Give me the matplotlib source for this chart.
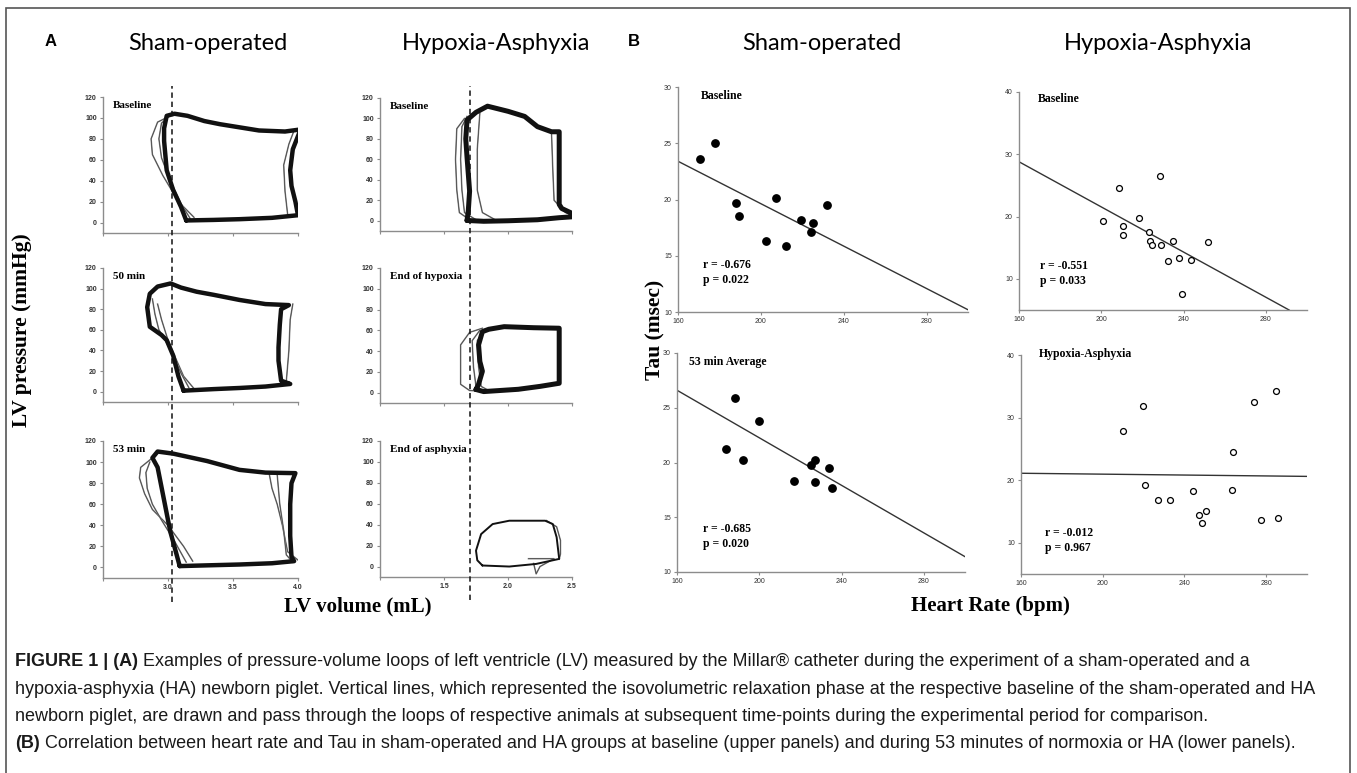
import numpy as np
import matplotlib.pyplot as plt
from matplotlib.patches import Rectangle

W, H = 1357, 773
SERIF = 'Liberation Serif'
SANS = 'Liberation Sans'
CAPFONT = 'Liberation Sans'
TITLEFONT = 'Lato'
AXGRAY = '#8c8c8c'

# ---------------- panel A: pressure-volume loops (volume mL, pressure mmHg) ----------------
sham_iso_vol = 3.03
ha_iso_vol = 1.70

sham_base_vol = [3.14, 3.35, 3.55, 3.80, 4.00, 3.98, 3.95, 3.94, 3.96, 4.02, 3.90, 3.70, 3.55,
                 3.40, 3.28, 3.15, 3.05, 2.99, 2.97, 2.97, 2.99, 3.04, 3.10, 3.14]
sham_base_p = [2, 2.5, 3.2, 4.5, 7, 20, 35, 50, 70, 89, 87, 88, 91, 94, 97, 102, 104, 102, 90,
               78, 50, 31, 15, 2]
sham_base_ghost = [([3.05, 2.92, 2.87, 2.88, 2.96, 3.08, 3.20], [104, 96, 80, 65, 45, 20, 5]),
                   ([3.02, 2.95, 2.93, 2.95, 3.01, 3.10, 3.17], [103, 95, 80, 62, 42, 18, 4]),
                   ([3.92, 3.90, 3.89, 3.93, 3.97], [8, 30, 55, 75, 88])]

sham_50_vol = [3.12, 3.35, 3.55, 3.75, 3.94, 3.87, 3.85, 3.85, 3.86, 3.87, 3.93, 3.75, 3.55,
               3.35, 3.22, 3.10, 3.02, 2.92, 2.86, 2.84, 2.86, 2.95, 2.99, 3.04, 3.08, 3.12]
sham_50_p = [1, 2.5, 3.6, 5, 7.5, 10.7, 30, 43, 65, 80, 84, 85, 89, 94, 97, 101, 105, 102, 95,
             82, 63, 55, 50, 35, 15, 1]
sham_50_ghost = [([2.92, 2.95, 2.98, 3.00, 3.05, 3.12, 3.20], [85, 70, 58, 50, 35, 15, 3]),
                 ([2.88, 2.90, 2.93, 2.97, 3.03, 3.10, 3.16], [90, 75, 60, 52, 38, 18, 4]),
                 ([3.91, 3.93, 3.94, 3.96], [10, 40, 70, 85])]

sham_53_vol = [3.09, 3.30, 3.55, 3.80, 3.97, 3.95, 3.94, 3.94, 3.95, 3.98, 3.75, 3.55, 3.30,
               3.04, 2.92, 2.88, 2.92, 2.96, 3.00, 3.02, 3.06, 3.09]
sham_53_p = [1.3, 2.0, 2.8, 4, 6, 10, 30, 60, 80, 89.5, 90, 92.6, 101, 108, 110, 104, 95, 70,
             45, 33, 15, 1.3]
sham_53_ghost = [([2.88, 2.79, 2.78, 2.82, 2.88, 3.00, 3.12, 3.19], [104, 95, 85, 70, 55, 40, 20, 6]),
                 ([2.86, 2.83, 2.84, 2.88, 2.95, 3.05, 3.14], [100, 90, 75, 60, 45, 25, 5]),
                 ([3.78, 3.80, 3.84, 3.88, 3.92, 4.02], [88, 75, 60, 40, 15, 5]),
                 ([3.84, 3.86, 3.89, 3.91, 3.96], [88, 60, 35, 12, 5])]

ha_base_vol = [1.68, 1.81, 2.00, 2.23, 2.40, 2.55, 2.42, 2.40, 2.40, 2.40, 2.40, 2.34, 2.23,
               2.13, 2.00, 1.84, 1.75, 1.68, 1.67, 1.68, 1.70, 1.69, 1.68]
ha_base_p = [0.3, -0.5, 0, 1, 3, 4.3, 12, 16, 45, 70, 87, 87, 92, 102, 107, 112, 106, 98.5,
             80, 62, 29, 10, 0.3]
ha_base_ghost = [([1.66, 1.60, 1.59, 1.60, 1.62, 1.70, 1.85], [100, 90, 60, 30, 8, 1, 0]),
                 ([1.68, 1.64, 1.63, 1.64, 1.66, 1.75, 1.90], [102, 92, 60, 30, 8, 1, 0]),
                 ([1.78, 1.76, 1.76, 1.80, 1.90], [105, 70, 30, 8, 1]),
                 ([2.34, 2.35, 2.36, 2.45, 2.52], [86, 50, 20, 8, 5])]

ha_hyp_vol = [1.75, 1.81, 2.08, 2.25, 2.40, 2.40, 2.40, 2.40, 2.20, 1.97, 1.85, 1.80, 1.77,
              1.78, 1.80, 1.77, 1.75]
ha_hyp_p = [3, 1, 3.2, 6, 9, 27, 50, 62, 62.5, 63.5, 61, 58.7, 46, 30, 20.6, 8, 3]
ha_hyp_ghost = [([1.80, 1.70, 1.63, 1.63, 1.70, 1.86], [62, 58, 46, 8, 2, 1]),
                ([1.78, 1.72, 1.73, 1.75, 1.80], [60, 50, 25, 6, 2]),
                ([1.82, 1.76, 1.77, 1.79, 1.85], [61, 50, 25, 6, 2])]

ha_asp_vol = [1.80, 2.01, 2.22, 2.40, 2.38, 2.35, 2.29, 2.01, 1.88, 1.79, 1.75, 1.76, 1.80]
ha_asp_p = [1, 0, 2.5, 7.3, 28, 40.6, 43.8, 43.8, 40.6, 31, 15.2, 6, 1]
ha_asp_ghost = [([2.30, 2.38, 2.41, 2.41, 2.40], [44, 38, 25, 12, 7]),
                ([2.16, 2.36, 2.25, 2.22, 2.20], [7.5, 7.5, 0, -7, 3])]

# ---------------- panel B: heart rate (bpm) vs Tau (msec) ----------------
sham_base_hr = [170.5, 178.1, 188.2, 189.4, 202.7, 207.5, 212.1, 219.5, 224.0, 225.0, 231.8]
sham_base_tau = [23.6, 25.0, 19.65, 18.5, 16.3, 20.15, 15.85, 18.2, 17.1, 17.95, 19.55]
sham_base_fit_hr = [160, 300]
sham_base_fit_tau = [23.4, 10.2]

sham_53_hr = [184.0, 188.0, 191.9, 199.9, 216.9, 225.3, 227.3, 227.3, 233.9, 235.2]
sham_53_tau = [21.2, 25.9, 20.25, 23.75, 18.3, 19.8, 20.2, 18.25, 19.5, 17.65]
sham_53_fit_hr = [160, 300]
sham_53_fit_tau = [26.6, 11.4]

ha_base_hr = [201.0, 208.8, 210.7, 210.5, 218.3, 223.2, 223.9, 224.5, 228.4, 229.0, 232.3,
              234.9, 238.0, 239.3, 243.5, 251.7]
ha_base_tau = [19.35, 24.6, 18.5, 17.05, 19.7, 17.6, 16.05, 15.45, 26.5, 15.5, 12.8, 16.05,
               13.3, 7.55, 13.0, 15.85]
ha_base_fit_hr = [160, 291.3]
ha_base_fit_tau = [28.8, 5.0]

ha_ha_hr = [209.8, 219.7, 220.8, 227.2, 232.9, 244.3, 247.0, 248.4, 250.4, 263.8, 263.4,
            274.2, 277.3, 284.8, 285.9]
ha_ha_tau = [27.8, 31.9, 19.2, 16.8, 16.8, 18.2, 14.4, 13.1, 15.0, 24.5, 18.5, 32.55, 13.7,
             34.3, 13.9]
ha_ha_fit_hr = [160, 300]
ha_ha_fit_tau = [21.1, 20.6]

caption = [
    [("FIGURE 1 | (A)", 'bold'), (" Examples of pressure-volume loops of left ventricle (LV) measured by the "
      "Millar\u00ae catheter during the experiment of a sham-operated and a", 'normal')],
    [("hypoxia-asphyxia (HA) newborn piglet. Vertical lines, which represented the isovolumetric relaxation "
      "phase at the respective baseline of the sham-operated and HA", 'normal')],
    [("newborn piglet, are drawn and pass through the loops of respective animals at subsequent time-points "
      "during the experimental period for comparison.", 'normal')],
    [("(B)", 'bold'), (" Correlation between heart rate and Tau in sham-operated and HA groups at baseline "
      "(upper panels) and during 53 minutes of normoxia or HA (lower panels).", 'normal')],
]


def rect(x0, y0, x1, y1):
    return [x0 / W, 1 - y1 / H, (x1 - x0) / W, (y1 - y0) / H]


def ftext(x, y, s, **kw):
    return fig.text(x / W, 1 - y / H, s, **kw)


def style_axes(ax, bold_ticks=False, size=5):
    for side in ['top', 'right']:
        ax.spines[side].set_visible(False)
    for side in ['left', 'bottom']:
        ax.spines[side].set_color(AXGRAY)
        ax.spines[side].set_linewidth(1.0)
    ax.tick_params(direction='out', length=2.5, width=0.8, color=AXGRAY, pad=2,
                   labelsize=size, labelcolor='#333333')
    for lab in ax.get_xticklabels() + ax.get_yticklabels():
        lab.set_family(SANS)
        if bold_ticks:
            lab.set_weight('bold')
    ax.patch.set_alpha(0)


fig = plt.figure(figsize=(W / 100, H / 100), dpi=100)

# frame
fig.patches.append(Rectangle((6 / W, -0.05), 1344 / W, 1 - 8 / H + 0.05, transform=fig.transFigure,
                             fill=False, edgecolor='#555555', linewidth=1.2))

# headings
ftext(45, 41, "A", fontsize=12, weight='bold', family=SANS, va='center')
ftext(628, 41, "B", fontsize=12, weight='bold', family=SANS, va='center')
for cx, s in [(208, "Sham-operated"), (496, "Hypoxia-Asphyxia"), (822, "Sham-operated"),
              (1158, "Hypoxia-Asphyxia")]:
    ftext(cx, 43, s, fontsize=17, family=TITLEFONT, ha='center', va='center')

# panel A
a_panels = [
    ((103, 97, 298, 233), (2.5, 4.0), "Baseline", sham_base_vol, sham_base_p, sham_base_ghost, False, 3.2),
    ((103, 268, 298, 402), (2.5, 4.0), "50 min", sham_50_vol, sham_50_p, sham_50_ghost, False, 3.2),
    ((103, 441, 298, 578), (2.5, 4.0), "53 min", sham_53_vol, sham_53_p, sham_53_ghost, True, 3.2),
    ((380, 98, 572, 231), (1.0, 2.5), "Baseline", ha_base_vol, ha_base_p, ha_base_ghost, False, 3.6),
    ((380, 268, 572, 403), (1.0, 2.5), "End of hypoxia", ha_hyp_vol, ha_hyp_p, ha_hyp_ghost, False, 3.6),
    ((380, 441, 572, 577), (1.0, 2.5), "End of asphyxia", ha_asp_vol, ha_asp_p, ha_asp_ghost, True, 1.4),
]
for box, xl, label, vol, pres, ghosts, show_x, lw in a_panels:
    ax = fig.add_axes(rect(*box))
    for gv, gp in ghosts:
        ax.plot(gv, gp, color='#8a8a8a', lw=1.1, solid_joinstyle='round')
        ax.plot(gv, gp, color='#444444', lw=0.5, solid_joinstyle='round')
    ax.plot(vol, pres, color='#111111', lw=lw, solid_joinstyle='round', solid_capstyle='round')
    ax.set_xlim(*xl)
    ax.set_ylim(-10, 120)
    ax.set_yticks(np.arange(0, 121, 20))
    ax.set_xticks(np.arange(xl[0], xl[1] + 0.01, 0.5))
    if show_x:
        ax.set_xticklabels([("%.1f" % t) if i > 0 else "" for i, t in enumerate(ax.get_xticks())])
    else:
        ax.set_xticklabels([])
    style_axes(ax, bold_ticks=True, size=5)
    ax.text(0.05, 0.97, label, transform=ax.transAxes, family=SERIF, weight='bold', fontsize=8,
            va='top', ha='left')

# dashed isovolumetric lines
for box, xl, xv in [((103, 86, 298, 602), (2.5, 4.0), sham_iso_vol),
                    ((380, 86, 572, 600), (1.0, 2.5), ha_iso_vol)]:
    ov = fig.add_axes(rect(*box))
    ov.set_xlim(*xl)
    ov.axvline(xv, color='#111111', lw=1.1, ls=(0, (3.5, 2.5)))
    ov.axis('off')

ftext(22, 330, "LV pressure (mmHg)", rotation=90, family=SERIF, weight='bold', fontsize=15.5,
      ha='center', va='center')
ftext(358, 606, "LV volume (mL)", family=SERIF, weight='bold', fontsize=15, ha='center', va='center')

# panel B
b_panels = [
    ((678, 87, 968, 312), (10, 30), [10, 15, 20, 25, 30], "Baseline", (701, 96), sham_base_hr,
     sham_base_tau, sham_base_fit_hr, sham_base_fit_tau, True, "r = -0.676\np = 0.022", (703, 265)),
    ((677, 353, 965, 572), (10, 30), [10, 15, 20, 25, 30], "53 min Average", (689, 362), sham_53_hr,
     sham_53_tau, sham_53_fit_hr, sham_53_fit_tau, True, "r = -0.685\np = 0.020", (703, 529)),
    ((1019, 92, 1307, 310), (5, 40), [10, 20, 30, 40], "Baseline", (1038, 99), ha_base_hr,
     ha_base_tau, ha_base_fit_hr, ha_base_fit_tau, False, "r = -0.551\np = 0.033", (1040, 266)),
    ((1021, 355, 1307, 574), (5, 40), [10, 20, 30, 40], "Hypoxia-Asphyxia", (1039, 354), ha_ha_hr,
     ha_ha_tau, ha_ha_fit_hr, ha_ha_fit_tau, False, "r = -0.012\np = 0.967", (1045, 533)),
]
for box, yl, yt, label, lpos, hr, tau, fhr, ftau, filled, stats, spos in b_panels:
    ax = fig.add_axes(rect(*box))
    ax.plot(fhr, ftau, color='#333333', lw=1.0)
    if filled:
        ax.scatter(hr, tau, s=28, color='black', zorder=3)
    else:
        ax.scatter(hr, tau, s=18, facecolor='white', edgecolor='black', linewidth=0.9, zorder=3)
    ax.set_xlim(160, 300)
    ax.set_ylim(*yl)
    ax.set_xticks([160, 200, 240, 280])
    ax.set_yticks(yt)
    style_axes(ax, size=5)
    ftext(lpos[0], lpos[1], label, family=SERIF, weight='bold', fontsize=8.5, va='center', ha='left')
    ftext(spos[0], spos[1] - 6, stats, family=SERIF, weight='bold', fontsize=8.5, va='top', ha='left',
          linespacing=1.35)

ftext(655, 330, "Tau (msec)", rotation=90, family=SERIF, weight='bold', fontsize=15.5,
      ha='center', va='center')
ftext(990, 606, "Heart Rate (bpm)", family=SERIF, weight='bold', fontsize=15, ha='center', va='center')

# caption
renderer = fig.canvas.get_renderer()
for i, line in enumerate(caption):
    x = 15
    y = 662 + i * 27.3
    for txt, weight in line:
        t = ftext(x, y, txt, family=CAPFONT, weight=weight, fontsize=13, va='center', ha='left',
                  color='#1a1a1a')
        bb = t.get_window_extent(renderer)
        x = bb.x1

fig.savefig("out.png", dpi=100)
